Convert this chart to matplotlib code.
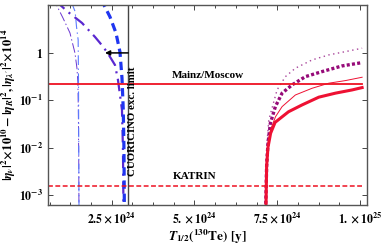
import matplotlib
matplotlib.use("Agg")
import matplotlib.pyplot as plt
from matplotlib.ticker import FixedLocator, FixedFormatter, NullLocator

plt.rcParams['font.family'] = ['Liberation Serif', 'DejaVu Serif']
plt.rcParams['mathtext.fontset'] = 'stix'
plt.rcParams['font.weight'] = 'bold'
plt.rcParams['lines.scale_dashes'] = False

# ---- data (T in units of 1e24 y) ----
# left curves
T_thin_purple = [0.60, 0.789, 1.030, 1.242, 1.393, 1.453, 1.483, 1.498, 1.508, 1.514]
v_thin_purple = [15, 11.97, 5.5, 2.65, 1.0, 0.48, 0.232, 0.038, 0.0055, 0.0005]

T_thin_blue = [1.30, 1.34, 1.40, 1.44, 1.49, 1.50, 1.505, 1.51, 1.515]
v_thin_blue = [12, 9.5, 7.4, 3.6, 1.88, 0.27, 0.038, 0.004, 0.0005]

T_mid_purple = [0.80, 0.879, 1.181, 1.604, 1.997, 2.148, 2.359, 2.601, 2.692, 2.813, 2.843, 2.858]
v_mid_purple = [13, 11.4, 7.36, 4.31, 2.18, 1.63, 1.05, 0.557, 0.269, 0.0624, 0.0089, 0.0005]

T_thick_blue = [2.148, 2.269, 2.45, 2.631, 2.752, 2.813, 2.852, 2.873, 2.885]
v_thick_blue = [13, 10.3, 5.8, 2.65, 1.05, 0.296, 0.0624, 0.0089, 0.0005]

# right curves
T_dot_thin = [7.14, 7.16, 7.19, 7.245, 7.495, 7.746, 8.048, 8.553, 9.057, 9.559, 10.063]
v_dot_thin = [0.0005, 0.004, 0.012, 0.0383, 0.165, 0.315, 0.475, 0.711, 0.907, 1.065, 1.257]

T_dot_thick = [7.15, 7.18, 7.22, 7.293, 7.444, 7.647, 7.949, 8.350, 8.855, 9.459, 10.063]
v_dot_thick = [0.0005, 0.004, 0.012, 0.0326, 0.0732, 0.141, 0.211, 0.315, 0.403, 0.531, 0.624]

T_red_thin = [7.15, 7.17, 7.21, 7.30, 7.45, 7.647, 8.048, 8.553, 9.057, 9.559, 10.063]
v_red_thin = [0.0005, 0.004, 0.011, 0.024, 0.045, 0.0732, 0.129, 0.179, 0.229, 0.26, 0.306]

T_red_thick = [7.16, 7.18, 7.22, 7.30, 7.435, 7.84, 8.251, 8.755, 9.257, 9.761, 10.063]
v_red_thick = [0.0005, 0.004, 0.010, 0.020, 0.034, 0.057, 0.0796, 0.116, 0.141, 0.165, 0.185]

mainz_value = 0.215
katrin_value = 1.55e-3
cuoricino_T = 3.0
line_T_range = [0.58, 10.063]
arrow_T_end = 2.30

x_ticks = [2.5, 5.0, 7.5, 10.0]
x_tick_labels = [r'$\mathbf{2.5\times10^{24}}$', r'$\mathbf{5.\times10^{24}}$',
                 r'$\mathbf{7.5\times10^{24}}$', r'$\mathbf{1.\times10^{25}}$']
y_ticks = [1e-3, 1e-2, 1e-1, 1]
y_tick_labels = [r'$\mathbf{10^{-3}}$', r'$\mathbf{10^{-2}}$', r'$\mathbf{10^{-1}}$', r'$\mathbf{1}$']

# ---- figure ----
fig = plt.figure(figsize=(3.82, 2.46), dpi=100)
ax = fig.add_axes([0.1257, 0.1667, 0.835, 0.813])

ax.plot(T_thin_purple, v_thin_purple, color='#6a35d0', lw=0.7, dashes=(7, 2, 1, 2))
ax.plot(T_thin_blue, v_thin_blue, color='#5c7cff', lw=0.8, dashes=(7, 2.5, 1, 2.5))
ax.plot(T_mid_purple, v_mid_purple, color='#5a28d0', lw=1.6, dashes=(9, 4, 1.5, 4))
ax.plot(T_thick_blue, v_thick_blue, color='#1f35f0', lw=2.3, dashes=(6, 3.5))

ax.plot(T_dot_thin, v_dot_thin, color='#a8449a', lw=1.0, dashes=(1, 2.5))
ax.plot(T_dot_thick, v_dot_thick, color='#960a78', lw=2.4, dashes=(2.2, 1.6))
ax.plot(T_red_thin, v_red_thin, color='#ee1133', lw=0.7)
ax.plot(T_red_thick, v_red_thick, color='#ee1133', lw=2.2)

ax.plot(line_T_range, [mainz_value, mainz_value], color='#ee1122', lw=1.3)
ax.plot(line_T_range, [katrin_value, katrin_value], color='#ee1122', lw=1.1, dashes=(3.5, 1.8))

ax.axvline(cuoricino_T, color='#444444', lw=1.0)
ax.annotate('', xy=(arrow_T_end, 1.0), xytext=(cuoricino_T, 1.0),
            arrowprops=dict(arrowstyle='-|>', color='black', lw=1.1,
                            mutation_scale=7, shrinkA=0, shrinkB=0))

ax.text(cuoricino_T + 0.14, 0.036, 'CUORICINO exc. limit', rotation=90,
        fontsize=7.8, fontweight='bold', ha='center', va='center')
ax.text(5.42, mainz_value * 1.22, 'Mainz/Moscow', fontsize=8, fontweight='bold',
        ha='center', va='bottom')
ax.text(5.0, katrin_value * 1.25, 'KATRIN', fontsize=8, fontweight='bold',
        ha='center', va='bottom')

ax.set_yscale('log')
ax.set_xlim(0.58, 10.21)
ax.set_ylim(6.1e-4, 10.3)

ax.xaxis.set_major_locator(FixedLocator(x_ticks))
ax.xaxis.set_major_formatter(FixedFormatter(x_tick_labels))
minor_x = [0.625 * k for k in range(1, 17) if (0.625 * k) % 2.5 != 0]
ax.xaxis.set_minor_locator(FixedLocator(minor_x))
ax.yaxis.set_major_locator(FixedLocator(y_ticks))
ax.yaxis.set_major_formatter(FixedFormatter(y_tick_labels))
ax.yaxis.set_minor_locator(NullLocator())

ax.tick_params(which='both', direction='in', top=True, right=True, colors='#444444',
               labelcolor='black', labelsize=8.5, width=0.7)
ax.tick_params(which='major', length=3.5)
ax.tick_params(which='minor', length=2)
ax.tick_params(axis='x', pad=4)
for s in ax.spines.values():
    s.set_color('#555555')
    s.set_linewidth(1.0)

ax.set_xlabel(r'$\mathbf{\mathit{T}_{1/2}(^{130}Te)\ [y]}$', fontsize=9.5, labelpad=2)
ax.set_ylabel(r'$|\eta_\nu|^2\!\times\!10^{10} - |\eta_R|^2, |\eta_{\lambda^\prime}|^2\!\times\!10^{14}$',
              fontsize=9, labelpad=1)

fig.savefig('out.png', dpi=100)
